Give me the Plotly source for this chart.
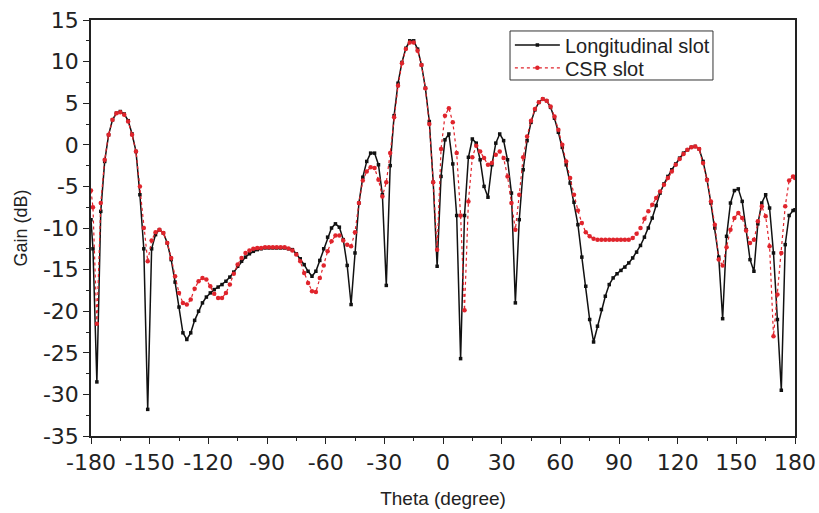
import plotly.graph_objects as go

# Angle grid (degrees)
theta = [-180] + list(range(-179, 180, 2)) + [180]

# Longitudinal slot gain (dB)
gain_longitudinal = [
    -9.0, -12.5, -28.5, -8.0, -2.0, 1.2, 3.0, 3.8, 4.0, 3.7,
    2.9, 1.3, -0.8, -6.0, -12.5, -31.8, -12.5, -10.8, -10.2, -10.6,
    -11.8, -13.8, -16.5, -19.5, -22.6, -23.4, -22.6, -21.1, -20.0, -19.0,
    -18.3, -17.8, -17.4, -17.1, -16.8, -16.4, -15.9, -15.3, -14.6, -14.0,
    -13.5, -13.1, -12.8, -12.6, -12.5, -12.4, -12.4, -12.4, -12.4, -12.4,
    -12.4, -12.5, -12.6, -13.1, -13.7, -14.4, -15.2, -15.8, -15.2, -13.9,
    -12.5, -11.1, -10.0, -9.5, -9.9, -11.4, -14.5, -19.2, -13.0, -7.0,
    -3.9, -2.0, -1.0, -1.0, -2.4, -6.0, -16.9, -2.5, 3.5, 7.4,
    9.9, 11.6, 12.5, 12.5, 11.5, 9.6, 6.8, 2.8, -4.5, -14.6,
    -3.8, 0.6, 1.3, -2.3, -8.5, -25.7, -8.5, -1.5, 0.7, 0.2,
    -1.8, -5.0, -6.3, -2.4, 0.2, 1.3, 0.5, -1.8, -5.8, -19.0,
    -9.0, -3.0, 0.5, 2.7, 4.2, 5.1, 5.5, 5.3, 4.5, 3.2,
    1.5, -0.3, -2.4, -4.6, -6.9, -9.6, -13.5, -17.0, -21.0, -23.7,
    -21.8, -19.8, -18.2, -16.8, -16.0, -15.5, -15.1, -14.7, -14.2, -13.6,
    -12.9, -12.1, -11.1, -10.0, -8.8, -7.3, -5.8, -4.7, -3.8, -3.0,
    -2.3, -1.6, -1.0, -0.6, -0.3, -0.2, -0.5, -2.0, -4.2, -7.0,
    -10.0, -13.5, -20.9, -11.0, -7.0, -5.5, -5.3, -6.8, -10.2, -13.8,
    -15.2, -9.5, -7.0, -6.0, -7.6, -13.0, -21.0, -29.5, -12.0, -8.5,
    -7.9, -7.8,
]

# CSR slot gain (dB)
gain_csr = [
    -5.5, -7.5, -21.5, -7.0, -1.8, 1.2, 3.0, 3.8, 3.9, 3.6,
    2.8, 1.2, -0.8, -5.0, -10.0, -14.0, -11.5, -10.5, -10.2, -10.6,
    -11.8, -13.6, -15.8, -17.8, -19.0, -19.2, -18.6, -17.3, -16.4, -16.0,
    -16.2, -17.0, -17.9, -18.4, -18.4, -17.8, -16.8, -15.5, -14.4, -13.6,
    -13.0, -12.7, -12.5, -12.4, -12.4, -12.3, -12.3, -12.3, -12.3, -12.3,
    -12.3, -12.45, -12.7, -13.2, -14.0, -15.4, -16.6, -17.6, -17.7, -16.0,
    -14.5, -12.8, -11.6, -10.9, -10.9, -11.5, -12.0, -12.2, -10.5, -7.0,
    -4.3, -3.2, -2.7, -2.8, -4.2, -6.2, -4.5, -1.0, 3.3, 7.1,
    9.8, 11.5, 12.3, 12.3, 11.3, 9.6, 6.8, 2.5, -4.5, -12.6,
    -0.5, 3.5, 4.4, 2.7, -1.0, -8.5, -19.9, -6.8, -1.5, -0.1,
    -0.8, -1.6, -2.4, -2.2, -1.2, -0.8, -1.6, -3.8, -7.0, -10.2,
    -6.0, -1.5, 1.0, 2.9, 4.3, 5.1, 5.5, 5.3, 4.6, 3.4,
    1.8, 0.0, -2.0, -4.0, -6.0, -7.9, -9.4, -10.5, -11.0, -11.3,
    -11.4, -11.4, -11.4, -11.4, -11.4, -11.4, -11.4, -11.4, -11.4, -11.2,
    -10.7, -10.0, -8.9, -8.0, -7.2, -6.4, -5.6, -4.8, -4.0, -3.2,
    -2.4, -1.7, -1.1, -0.6, -0.3, -0.2, -0.5, -2.2, -4.2, -6.8,
    -9.6, -13.8, -14.5, -12.3, -10.2, -8.8, -8.2, -8.8, -10.3, -11.8,
    -11.4, -9.2, -7.4, -8.6, -12.2, -23.0, -18.0, -13.0, -7.4, -4.3,
    -3.8, -4.0,
]

x_ticks = [-180, -150, -120, -90, -60, -30, 0, 30, 60, 90, 120, 150, 180]
y_ticks = [15, 10, 5, 0, -5, -10, -15, -20, -25, -30, -35]

series_names = ["Longitudinal slot", "CSR slot"]

fig = go.Figure()
fig.add_trace(go.Scatter(
    x=theta, y=gain_longitudinal, name=series_names[0], mode="lines+markers",
    line=dict(color="#111111", width=1.5),
    marker=dict(symbol="square", size=3.5, color="#111111"),
    legend="legend",
))
fig.add_trace(go.Scatter(
    x=theta, y=gain_csr, name=series_names[1], mode="lines+markers",
    line=dict(color="#e0242c", width=1.2, dash="dot"),
    marker=dict(symbol="circle", size=4.5, color="#e0242c"),
    legend="legend2",
))

axis_common = dict(
    showline=True, linewidth=1.5, linecolor="#222222", mirror=True,
    ticks="outside", ticklen=6, tickwidth=1.3, tickcolor="#222222",
    showgrid=False, zeroline=False,
    tickfont=dict(family="DejaVu Sans", size=22, color="#222222"),
)

legend_font = dict(family="Liberation Sans", size=20, color="#222222")

fig.update_layout(
    template="none",
    width=819, height=513,
    margin=dict(l=91, r=24, t=20, b=77),
    plot_bgcolor="white", paper_bgcolor="white",
    showlegend=True,
    legend=dict(
        x=0.595, y=0.940, xanchor="left", yanchor="middle",
        borderwidth=0, bgcolor="rgba(0,0,0,0)", font=legend_font, itemwidth=45,
    ),
    legend2=dict(
        x=0.595, y=0.885, xanchor="left", yanchor="middle",
        borderwidth=0, bgcolor="rgba(0,0,0,0)", font=legend_font, itemwidth=45,
    ),
    shapes=[dict(
        type="rect", xref="paper", yref="paper",
        x0=0.5952, x1=0.8835, y0=0.8558, y1=0.9736,
        line=dict(color="#333333", width=1), fillcolor="white", layer="above",
    )],
    xaxis=dict(
        range=[-180, 180], tickvals=x_ticks, ticktext=[str(v) for v in x_ticks],
        minor=dict(ticks="outside", ticklen=3, dtick=15, tick0=-180, tickcolor="#222222"),
        title=dict(text="Theta (degree)", font=dict(family="Liberation Sans", size=19, color="#222222"), standoff=18),
        automargin=False,
        **axis_common,
    ),
    yaxis=dict(
        range=[-35, 15], tickvals=y_ticks, ticktext=[str(v) for v in y_ticks],
        minor=dict(ticks="outside", ticklen=3, dtick=2.5, tick0=0, tickcolor="#222222"),
        title=dict(text="Gain (dB)", font=dict(family="Liberation Sans", size=18, color="#222222"), standoff=11),
        automargin=False,
        **axis_common,
    ),
)

fig.write_html(
    "out.html",
    config={"displayModeBar": False},
    post_script="document.body.style.margin='0';",
)
